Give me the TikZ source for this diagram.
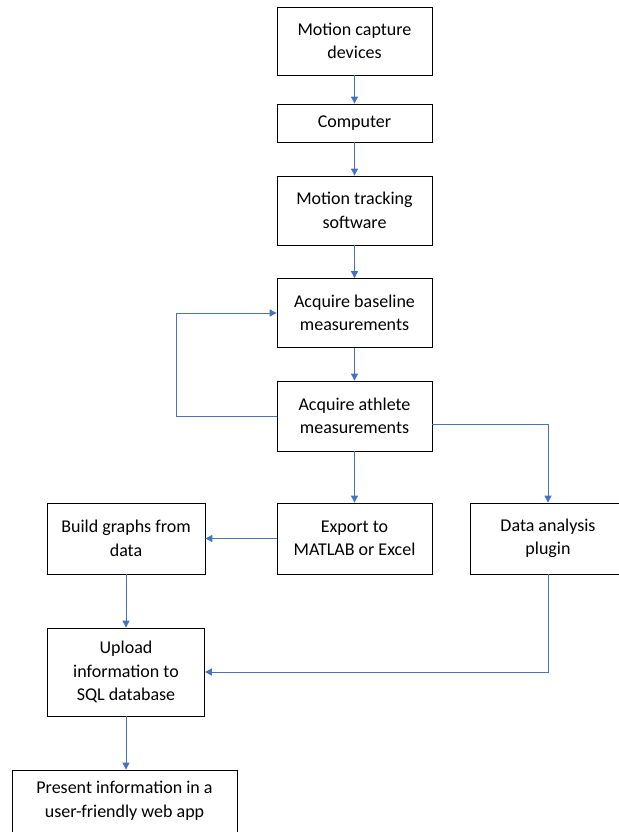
\documentclass[tikz,border=0pt]{standalone}
\usepackage{fontspec}
\setmainfont{Carlito}
\usetikzlibrary{arrows.meta}
\definecolor{linkblue}{RGB}{68,114,196}
\begin{document}
\begin{tikzpicture}[x=1pt,y=-1pt,
    stage/.style ={draw, thick, align=center, font=\fontsize{18}{23.5}\selectfont, minimum width=155pt, inner sep=0pt},
    link/.style ={draw=linkblue, line width=0.9pt, -{Triangle[width=7pt,length=7pt]}}]
   \useasboundingbox (0,0) rectangle (618,832);
   \fill[white] (0,0) rectangle (618,832);

   \node[stage, minimum height=68pt] (mocap) at (354.5,41) {Motion capture\\devices};
   \node[stage, minimum height=38pt] (computer) at (354.5,123) {Computer};
   \node[stage, minimum height=69pt] (tracking) at (354.5,210.5) {Motion tracking\\software};
   \node[stage, minimum height=69pt] (baseline) at (354.5,313) {Acquire baseline\\measurements};
   \node[stage, minimum height=70pt] (athlete) at (354.5,416) {Acquire athlete\\measurements};
   \node[stage, minimum height=71pt] (export) at (354.5,538.5) {Export to\\MATLAB or Excel};
   \node[stage, minimum height=71pt, minimum width=158pt] (graphs) at (126,538.5) {Build graphs from\\data};
   \node[stage, minimum height=71pt, minimum width=156pt] (plugin) at (548,538.5) {Data analysis\\plugin};
   \node[stage, minimum height=88pt, minimum width=157pt] (upload) at (126,672) {Upload\\information to\\SQL database};
   \node[stage, minimum height=80pt, minimum width=225pt] (present) at (124.5,810) {Present information in a\\user-friendly web app\\[-2pt]};

   \draw[link] (mocap) to (computer);
   \draw[link] (computer) to (tracking);
   \draw[link] (tracking) to (baseline);
   \draw[link] (baseline) to (athlete);
   \draw[link] (athlete.west) -- ++(-100,0) |- (baseline.west);
   \draw[link] (athlete) to (export);
   \draw[link] ([yshift=-8pt]athlete.east) -| (plugin.north);
   \draw[link] (export.west) -- (graphs.east);
   \draw[link] (graphs) to (upload);
   \draw[link] (plugin.south) |- (upload.east);
   \draw[link] (upload.south) -- (upload.south |- present.north);
 \end{tikzpicture}
\end{document}
